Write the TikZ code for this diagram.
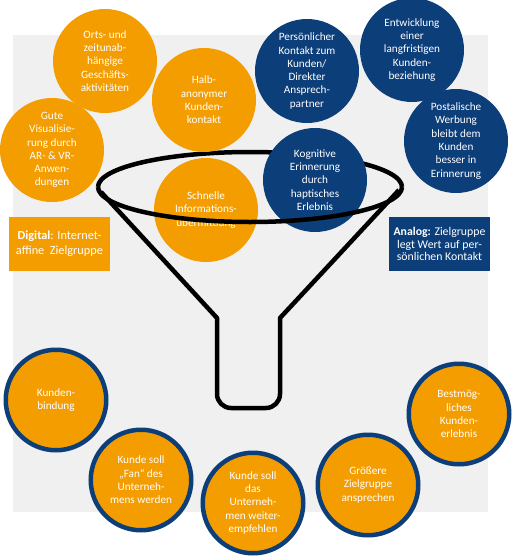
\documentclass[tikz,border=0pt]{standalone}
\usepackage{fontspec}
\setmainfont{Carlito}
\definecolor{fhorange}{RGB}{244,157,0}
\definecolor{fhblue}{RGB}{12,62,122}
\definecolor{bggray}{RGB}{240,240,240}

\begin{document}
\begin{tikzpicture}[x=1pt, y=-1pt,
  circ/.style={circle, minimum size=104pt, inner sep=0pt, align=center,
               text=white, font=\fontsize{11.2}{13.3}\selectfont},
  dig/.style={circ, fill=fhorange},
  ana/.style={circ, fill=fhblue},
  goal/.style={circ, fill=fhorange, draw=fhblue, line width=4.5pt,
               minimum size=100.5pt},
  tbox/.style={rectangle, minimum width=101pt, minimum height=54pt,
               inner sep=2pt, align=center, text=white},
  funnel/.style={black, line width=4.5pt, line join=round}]
  \useasboundingbox (0,0) rectangle (513,557);
  % light gray panel behind everything
  \fill[bggray] (13,35) rectangle (488,512);
  % back half of the funnel rim, hidden by the circles
  \draw[funnel] (98,187)
    arc[start angle=180, end angle=360, x radius=152, y radius=35];
  % digital side (orange)
  \node[dig] (orts) at (105,61)
    {Orts- und\\zeitunab-\\hängige\\Geschäfts-\\aktivitäten};
  \node[dig] (visual) at (52,150)
    {Gute\\Visualisie-\\rung durch\\AR- \& VR-\\Anwen-\\dungen};
  \node[dig] (halb) at (204,100) {Halb-\\anonymer\\Kunden-\\kontakt};
  \node[dig] (schnell) at (206,210) {Schnelle\\Informations-\\übermittlung};
  % analog side (blue)
  \node[ana] (persoen) at (307,71)
    {Persönlicher\\Kontakt zum\\Kunden/\\Direkter\\Ansprech-\\partner};
  \node[ana] (entw) at (412,50)
    {Entwicklung\\einer\\langfristigen\\Kunden-\\beziehung};
  \node[ana] (post) at (456,141)
    {Postalische\\Werbung\\bleibt dem\\Kunden\\besser in\\Erinnerung};
  \node[ana] (kogn) at (315,180)
    {Kognitive\\Erinnerung\\durch\\haptisches\\Erlebnis};
  % target groups
  \node[tbox, fill=fhorange, font=\fontsize{12.3}{15}\selectfont]
    (digital) at (59.5,244) {\textbf{Digital}: Internet-\\affine\ \ Zielgruppe};
  \node[tbox, fill=fhblue, font=\fontsize{11.8}{12.8}\selectfont]
    (analog) at (439.5,244)
    {\textbf{Analog:} Zielgruppe\\legt Wert auf per-\\sönlichen Kontakt};
  % goals below the funnel
  \node[goal] (bindung) at (56,400) {Kunden-\\bindung};
  \node[goal] (fan) at (141,480)
    {Kunde soll\\„Fan“ des\\Unterneh-\\mens werden};
  \node[goal] (empf) at (253,503)
    {Kunde soll\\das\\Unterneh-\\men weiter-\\empfehlen};
  \node[goal] (gross) at (368,485) {Größere\\Zielgruppe\\ansprechen};
  \node[goal] (best) at (459,414) {Bestmög-\\liches\\Kunden-\\erlebnis};
  % front half of the rim and the body of the funnel
  \draw[funnel] (98,187)
    arc[start angle=180, end angle=0, x radius=152, y radius=35];
  \draw[funnel] (101,192) -- (217,318)
    {[rounded corners=14pt] -- (217,408) -- (280,408)} -- (280,318)
    -- (399,190);
\end{tikzpicture}
\end{document}
